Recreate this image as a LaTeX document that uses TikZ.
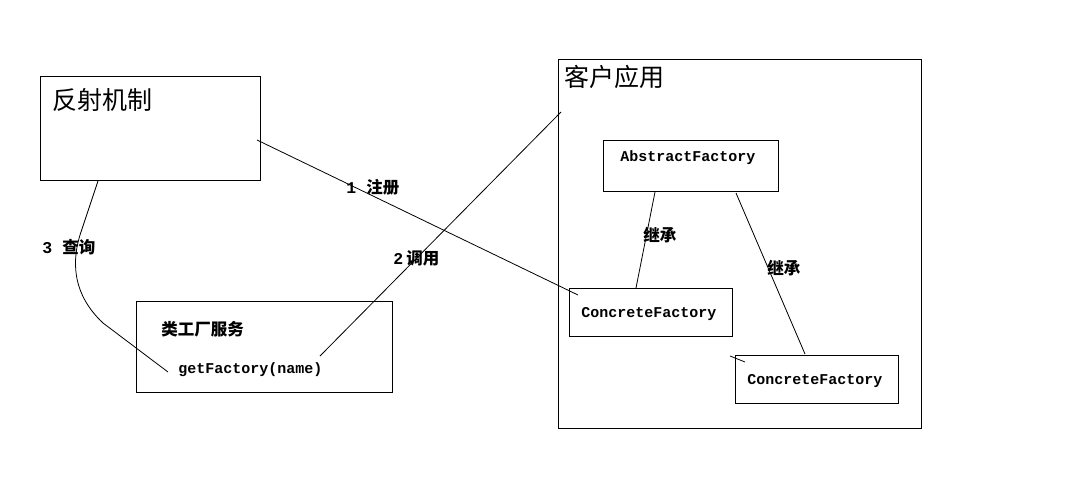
\documentclass[tikz,border=0pt]{standalone}
\usepackage{fontspec}
\setmonofont{Liberation Mono}
\newfontfamily\cjk{Noto Sans CJK SC}
\usepackage{tikz}
\usetikzlibrary{positioning, backgrounds}

\begin{document}
\begin{tikzpicture}[-, x=1pt, y=-1pt, line width=0.8pt, inner sep=0pt,
  box/.style={draw, rectangle, line width=0.8pt},
  title/.style={anchor=west, font=\cjk\fontsize{25}{27}\selectfont},
  lbl/.style={anchor=west, font=\cjk\bfseries\fontsize{16.5}{18}\selectfont},
  code/.style={anchor=west, font=\ttfamily\bfseries\fontsize{15}{17}\selectfont},
  background rectangle/.style={fill=white}, show background rectangle]
  \useasboundingbox (0,0) rectangle (1074,480);
  % boxes
  \node[box, minimum width=220pt, minimum height=104pt] (R)    at (150,128)   {};
  \node[box, minimum width=363pt, minimum height=369pt] (C)    at (739.5,243.5) {};
  \node[box, minimum width=175pt, minimum height=51pt]  (AF)   at (690.5,165.5) {};
  \node[box, minimum width=163pt, minimum height=48pt]  (CF_1) at (650.5,312)   {};
  \node[box, minimum width=163pt, minimum height=48pt]  (CF_2) at (816.5,379)   {};
  \node[box, minimum width=256pt, minimum height=91pt]  (S)    at (264,346.5)   {};
  % texts
  \node[title] (R_t)    at (52,100)  {反射机制};
  \node[title] (C_t)    at (564,77)  {客户应用};
  \node[code]  (AF_t)   at (620,158) {AbstractFactory};
  \node[code]  (CF_1t)  at (581,314) {ConcreteFactory};
  \node[code]  (CF_2t)  at (747,381) {ConcreteFactory};
  \node[lbl]   (S_t)    at (161,329) {类工厂服务};
  \node[code]  (S_m)    at (178,370) {getFactory(name)};
  % connector ends
  \coordinate (R_1)  at (257,140);
  \coordinate (R_3)  at (98,181);
  \coordinate (Q_1)  at (80,235);
  \coordinate (Q_2)  at (103,323);
  \coordinate (S_3)  at (168,372);
  \coordinate (S_2)  at (320,356);
  \coordinate (C_2)  at (561,112);
  \coordinate (CF_1r) at (578,295);
  \coordinate (AF_1) at (655,192);
  \coordinate (CF_1i) at (636,288);
  \coordinate (AF_2) at (736,193);
  \coordinate (CF_2i) at (805,354);
  \coordinate (T_1)  at (730,356);
  \coordinate (T_2)  at (745,362);
  \path (R_1)  edge (CF_1r)
        (S_2)  edge (C_2)
        (AF_1) edge (CF_1i)
        (AF_2) edge (CF_2i)
        (T_1)  edge (T_2)
        ;
  \draw (R_3) -- (Q_1) .. controls (73,258) and (70,292) .. (Q_2) -- (S_3);
  % labels
  \node[lbl] (L_1) at (346,187) {{\ttfamily 1}\hspace{10pt}注册};
  \node[lbl] (L_2) at (393,258) {{\ttfamily 2}\hspace{3pt}调用};
  \node[lbl] (L_3) at (42,247)  {{\ttfamily 3}\hspace{10pt}查询};
  \node[lbl] (L_4) at (643,235) {继承};
  \node[lbl] (L_5) at (767,268) {继承};
\end{tikzpicture}
\end{document}
